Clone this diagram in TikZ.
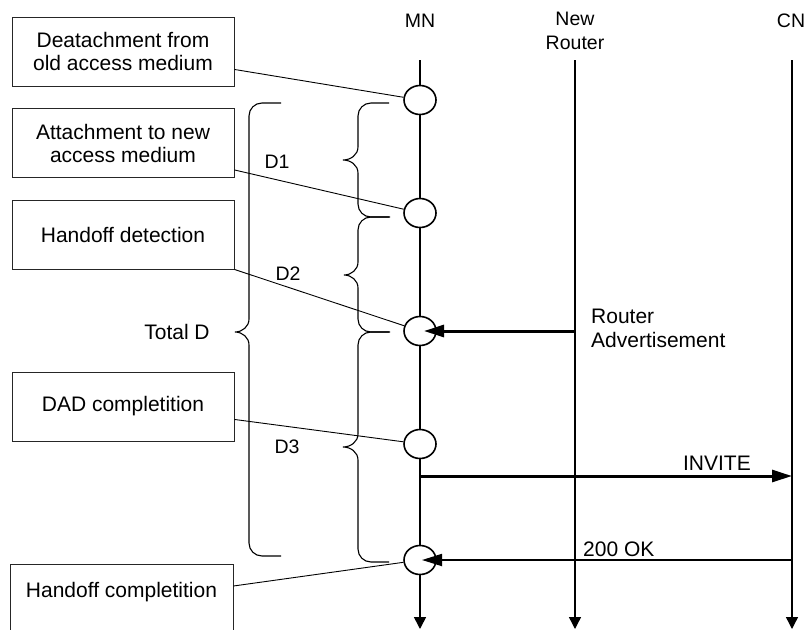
\documentclass[tikz,border=0pt]{standalone}
\usepackage{fontspec}
\setmainfont{Liberation Sans}
\usetikzlibrary{arrows.meta,shapes.geometric}

% curly brace: tip x, spine x, point x, top y, middle y, bottom y
\newcommand\drawbrace[6]{%
  \draw[bracestyle] (#1,#4) -- (#2+13,#4) to[out=180,in=90] (#2,#4+13)
    -- (#2,#5-13) to[out=-90,in=0] (#3,#5) to[out=0,in=90] (#2,#5+13)
    -- (#2,#6-13) to[out=-90,in=180] (#2+13,#6) -- (#1,#6);}

\begin{document}
\begin{tikzpicture}[x=1pt,y=-1pt,
  evbox/.style={draw=black!85, line width=0.9pt, minimum width=222pt,
    minimum height=69pt, align=center, inner sep=0pt,
    font=\fontsize{21}{23}\selectfont},
  event/.style={ellipse, draw, line width=1.6pt, fill=white,
    minimum width=32pt, minimum height=29pt, inner sep=0pt},
  header/.style={font=\fontsize{19.5}{24}\selectfont, align=center, inner sep=0pt},
  lbl/.style={font=\fontsize{21}{24}\selectfont, inner sep=0pt},
  dlbl/.style={font=\fontsize{19.5}{22}\selectfont, inner sep=0pt},
  life/.style={line width=1.6pt, -{Triangle[length=12pt,width=12pt]}},
  link/.style={line width=0.9pt},
  bracestyle/.style={line width=1.1pt, black},
  msg/.style={line width=3pt, -{Triangle[length=20pt,width=12pt]}},
  reply/.style={line width=1.8pt, -{Triangle[length=20pt,width=12pt]}},
]
\useasboundingbox (0,0) rectangle (807,630);

% entity headers
\node[header] (mn) at (420,20.5) {MN};
\node[header] (nr) at (575,30.5) {New\\Router};
\node[header] (cn) at (791,20.5) {CN};

% lifelines
\coordinate (mnTop) at (420,60);  \coordinate (mnBot) at (420,629);
\coordinate (nrTop) at (575,60);  \coordinate (nrBot) at (575,629);
\coordinate (cnTop) at (792,60);  \coordinate (cnBot) at (792,629);
\draw[life] (mnTop) -- (mnBot);
\draw[life, line width=1.4pt] (nrTop) -- (nrBot);
\draw[life, line width=1.4pt] (cnTop) -- (cnBot);

% events on the MN lifeline
\node[event] (c1) at (420,100) {};
\node[event] (c2) at (420,213) {};
\node[event] (c3) at (420,331) {};
\node[event] (c4) at (420,444) {};
\node[event] (c5) at (420,560) {};

% event descriptions
\node[evbox] (b1) at (123,51.5) {Deatachment from\\old access medium};
\node[evbox] (b2) at (123,143) {Attachment to new\\access medium};
\node[evbox] (b3) at (123,234.5) {Handoff detection};
\node[evbox] (b4) at (123,406.5) {DAD completition};
\node[evbox, anchor=north, text height=33pt, text depth=36pt, minimum width=223pt]
  (b5) at (121.5,564) {Handoff completition};

\draw[link] ([yshift=17pt]b1.south east) -- (c1);
\draw[link] ([yshift=8pt]b2.south east) -- (c2);
\draw[link] (b3.south east) -- (c3);
\draw[link] ([yshift=22pt]b4.south east) -- (c4);
\draw[link] ([yshift=-22pt]b5.north east) -- (c5);

% messages
\coordinate (nrAdv) at (575,331);
\coordinate (mnInv) at (420,476);
\coordinate (cnInv) at (792,476);
\coordinate (cnOk) at (792,560);
\draw[msg, shorten >=4pt] (nrAdv) -- (c3.center);
\draw[msg] (mnInv) -- (cnInv);
\draw[reply, shorten >=2pt] (cnOk) -- (c5.center);

\node[lbl, anchor=west, align=left] (advlbl) at (591,328.5) {Router\\Advertisement};
\node[lbl, anchor=base east] (invlbl) at (751,470) {INVITE};
\node[lbl, anchor=base west] (oklbl) at (583,556) {200 OK};

% delay braces
\drawbrace{389}{358}{343}{103}{160}{217}
\drawbrace{390}{358}{344}{217}{275}{332}
\drawbrace{389}{358}{343}{332}{447}{562}
\drawbrace{281}{249}{235}{103}{332}{556}

\node[dlbl] (d1) at (277,162) {D1};
\node[dlbl] (d2) at (288,274) {D2};
\node[dlbl] (d3) at (287,447) {D3};
\node[lbl] (total) at (177,332) {Total D};
\end{tikzpicture}
\end{document}
